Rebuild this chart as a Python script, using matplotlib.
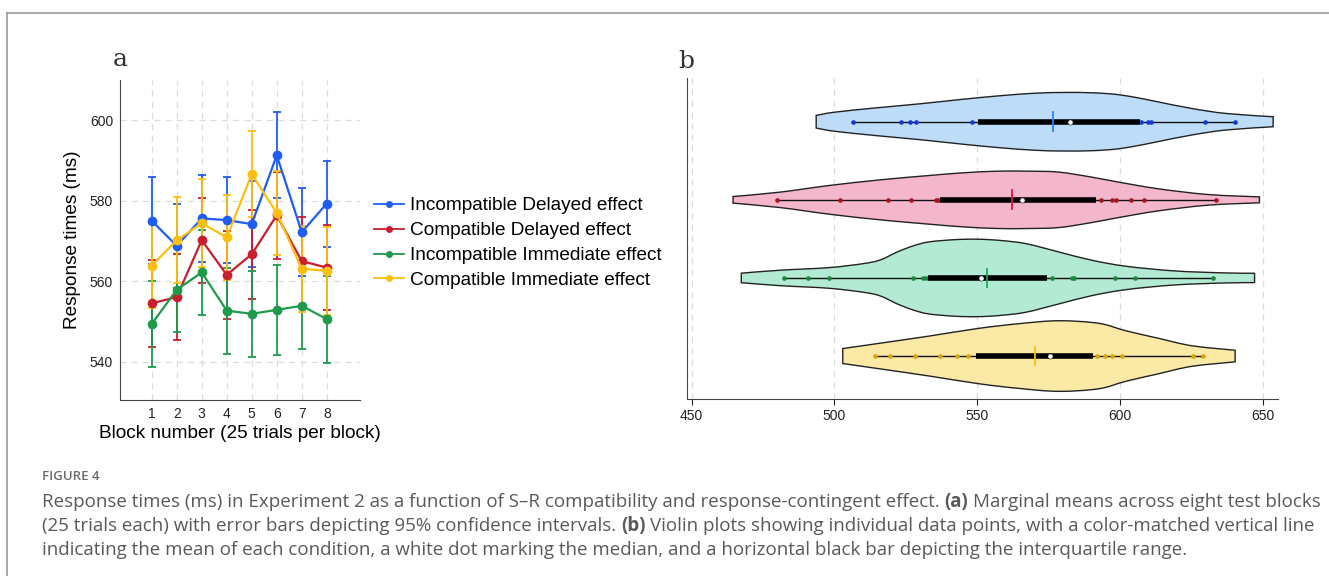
"""Figure 4: response times by block (a) and violin plots per condition (b)."""

import matplotlib
matplotlib.use("Agg")
import matplotlib.pyplot as plt
from matplotlib.lines import Line2D
from matplotlib.path import Path
from matplotlib.patches import PathPatch
import numpy as np

# ── data: panel a (marginal means, 95% CI half-widths) ─────────────────────

BLOCKS = [1, 2, 3, 4, 5, 6, 7, 8]
SERIES = [
    "Incompatible Delayed effect",
    "Compatible Delayed effect",
    "Incompatible Immediate effect",
    "Compatible Immediate effect",
]
inc_del_mean = [575.0, 568.8, 575.6, 575.2, 574.2, 591.3, 572.2, 579.3]
inc_del_ci = [10.8, 10.5, 10.7, 10.6, 10.6, 10.7, 11.0, 10.7]
com_del_mean = [554.5, 556.1, 570.2, 561.6, 566.7, 576.4, 565.0, 563.4]
com_del_ci = [10.8, 10.6, 10.6, 10.9, 11.0, 10.8, 11.0, 10.6]
inc_imm_mean = [549.4, 557.9, 562.2, 552.7, 551.9, 552.9, 553.9, 550.6]
inc_imm_ci = [10.6, 10.6, 10.5, 10.7, 10.6, 11.1, 10.8, 10.8]
com_imm_mean = [563.9, 570.2, 574.4, 570.9, 586.6, 577.0, 563.1, 562.6]
com_imm_ci = [10.6, 10.7, 10.9, 10.6, 10.7, 10.5, 10.7, 10.9]

# ── data: panel b (violin outline, individual points, summary stats) ───────
# outline: response time [ms] and half-height of the density (axis units)

inc_del_vx = [493.6, 500, 515, 530, 545, 558, 570, 580, 590, 598, 605, 613, 625, 637, 653.5]
inc_del_vh = [0.081, 0.122, 0.179, 0.230, 0.288, 0.333, 0.365, 0.375, 0.371, 0.352,
              0.314, 0.256, 0.170, 0.106, 0.064]
com_del_vx = [464.5, 481, 498, 516, 533, 545, 557, 568, 578.5, 590, 599.4, 613.4, 630.8, 648.7]
com_del_vh = [0.042, 0.099, 0.183, 0.256, 0.311, 0.346, 0.367, 0.367, 0.355, 0.291,
              0.227, 0.141, 0.068, 0.038]
inc_imm_vx = [467.4, 481, 498, 510, 516, 522, 527.5, 533, 542, 550, 558, 567, 578.5,
              590, 602, 619, 637, 647]
inc_imm_vh = [0.061, 0.099, 0.132, 0.183, 0.230, 0.333, 0.410, 0.461, 0.490, 0.496,
              0.480, 0.439, 0.333, 0.227, 0.150, 0.090, 0.064, 0.060]
com_imm_vx = [502.9, 515.7, 533.2, 550.6, 565, 578.5, 592.5, 601.9, 613.4, 625, 640.2]
com_imm_vh = [0.096, 0.163, 0.256, 0.355, 0.416, 0.452, 0.419, 0.324, 0.227, 0.132, 0.074]

inc_del_pts = [506.6, 523.3, 526.4, 528.5, 548.0, 607.4, 609.8, 610.8, 629.8, 640.2]
com_del_pts = [479.9, 502.1, 518.6, 526.9, 535.6, 536.4, 593.3, 597.0, 598.5, 603.6,
               608.4, 633.4]
inc_imm_pts = [482.4, 490.7, 498.0, 527.6, 531.0, 532.0, 576.2, 583.1, 583.7, 598.1,
               605.1, 632.3]
com_imm_pts = [514.3, 519.4, 528.3, 537.0, 543.0, 546.6, 591.7, 594.8, 597.1, 600.6,
               625.4, 629.1]

q1 = [550.4, 537.0, 532.6, 549.4]
q3 = [606.8, 591.5, 574.5, 590.4]
means = [576.4, 562.0, 553.3, 570.3]
medians = [582.4, 565.5, 551.3, 575.3]

CAPTION_LINES = [
    [("Response times (ms) in Experiment 2 as a function of S\u2013R compatibility and "
      "response-contingent effect.", "normal"),
     ("(a)", "bold"), ("Marginal means across eight test blocks", "normal")],
    [("(25 trials each) with error bars depicting 95% confidence intervals.", "normal"),
     ("(b)", "bold"),
     ("Violin plots showing individual data points, with a color-matched vertical line",
      "normal")],
    [("indicating the mean of each condition, a white dot marking the median, and a "
      "horizontal black bar depicting the interquartile range.", "normal")],
]

# ── styles ─────────────────────────────────────────────────────────────────

W_PX, H_PX = 1329, 576
LINE_COLORS = ["#1f5ef5", "#c81e2d", "#1f9a4a", "#fdc010"]
FILL_COLORS = ["#bcdcf8", "#f3b6cb", "#b2ead3", "#fbe9a6"]
DOT_COLORS = ["#1238d8", "#b0101e", "#178a3a", "#d9a400"]
MEAN_COLORS = ["#2a7fff", "#d81c3a", "#1fa553", "#f2c000"]
GRID = dict(color="#dddddd", linestyle=(0, (5, 4)), linewidth=0.9)
LABEL_SIZE = 13.7

plt.rcParams["font.family"] = ["Liberation Sans", "DejaVu Sans"]

fig = plt.figure(figsize=(W_PX / 100, H_PX / 100), dpi=100)


def px_box(left, top, right, bottom):
    return [left / W_PX, 1 - bottom / H_PX, (right - left) / W_PX, (bottom - top) / H_PX]


def smooth_edge(xs, ys):
    """Catmull-Rom through the read outline points, as cubic Bezier vertices."""
    p = np.column_stack([xs, ys])
    n = len(p)
    verts = []
    for i in range(n - 1):
        p0, p1, p2, p3 = p[max(i - 1, 0)], p[i], p[i + 1], p[min(i + 2, n - 1)]
        verts += [p1 + (p2 - p0) / 6, p2 - (p3 - p1) / 6, p2]
    return verts


def violin_path(xs, hs, pos):
    xs = np.asarray(xs, float)
    hs = np.asarray(hs, float)
    upper = smooth_edge(xs, pos + hs)
    lower = smooth_edge(xs[::-1], pos - hs[::-1])
    verts = [(xs[0], pos + hs[0])] + upper + [(xs[-1], pos - hs[-1])] + lower
    verts.append((xs[0], pos + hs[0]))
    codes = ([Path.MOVETO] + [Path.CURVE4] * len(upper) + [Path.LINETO]
             + [Path.CURVE4] * len(lower) + [Path.CLOSEPOLY])
    return Path(verts, codes)


# ── panel a ────────────────────────────────────────────────────────────────

ax_a = fig.add_axes(px_box(120, 80, 360, 400))
means_a = [inc_del_mean, com_del_mean, inc_imm_mean, com_imm_mean]
cis_a = [inc_del_ci, com_del_ci, inc_imm_ci, com_imm_ci]
for name, m, ci, c in zip(SERIES, means_a, cis_a, LINE_COLORS):
    ax_a.errorbar(BLOCKS, m, yerr=ci, color=c, ecolor=c, elinewidth=1.3,
                  capsize=3, capthick=1.3, linewidth=1.6, marker="o",
                  markersize=6, label=name, zorder=3)

ax_a.set_xlim(-0.27, 9.33)
ax_a.set_ylim(530.5, 610)
ax_a.set_xticks(BLOCKS)
ax_a.set_yticks([540, 560, 580, 600])
ax_a.grid(True, **GRID)
ax_a.set_axisbelow(True)
for s in ["top", "right"]:
    ax_a.spines[s].set_visible(False)
for s in ["left", "bottom"]:
    ax_a.spines[s].set_color("#444444")
ax_a.tick_params(length=0, labelsize=10, pad=5, colors="#222222")
ax_a.set_xlabel("Block number (25 trials per block)", fontsize=LABEL_SIZE, labelpad=3)
ax_a.set_ylabel("Response times (ms)", fontsize=LABEL_SIZE, labelpad=6)

handles = [Line2D([], [], color=c, marker="o", markersize=4, linewidth=1.3)
           for c in LINE_COLORS]
fig.legend(handles, SERIES, loc="upper left", bbox_to_anchor=(374 / W_PX, 1 - 197 / H_PX),
           frameon=False, fontsize=LABEL_SIZE, handlelength=1.6, handletextpad=0.3,
           labelspacing=0.4, borderpad=0, borderaxespad=0)

fig.text(120 / W_PX, 1 - 59 / H_PX, "a", fontsize=18, family="DejaVu Serif",
         ha="center", va="center", color="#333333")

# ── panel b ────────────────────────────────────────────────────────────────

ax_b = fig.add_axes(px_box(687, 78, 1278, 399))
vx = [inc_del_vx, com_del_vx, inc_imm_vx, com_imm_vx]
vh = [inc_del_vh, com_del_vh, inc_imm_vh, com_imm_vh]
pts = [inc_del_pts, com_del_pts, inc_imm_pts, com_imm_pts]
positions = [4, 3, 2, 1]

for i, pos in enumerate(positions):
    ax_b.add_patch(PathPatch(violin_path(vx[i], vh[i], pos), facecolor=FILL_COLORS[i],
                             edgecolor="#222222", linewidth=1.0, zorder=2))
    p = np.array(pts[i])
    ax_b.plot([p.min(), p.max()], [pos, pos], color="#111111", linewidth=1.0, zorder=3)
    ax_b.scatter(p, np.full(len(p), pos), s=11, color=DOT_COLORS[i], zorder=4,
                 linewidths=0)
    ax_b.plot([q1[i], q3[i]], [pos, pos], color="black", linewidth=4,
              solid_capstyle="butt", zorder=5)
    ax_b.plot([means[i], means[i]], [pos - 0.12, pos + 0.12], color=MEAN_COLORS[i],
              linewidth=1.3, zorder=6)
    ax_b.scatter([medians[i]], [pos], s=14, color="white", edgecolors="#111111",
                 linewidths=0.4, zorder=7)

ax_b.set_xlim(448.4, 655.2)
ax_b.set_ylim(0.45, 4.56)
ax_b.set_xticks([450, 500, 550, 600, 650])
ax_b.set_yticks([])
ax_b.grid(True, axis="x", **GRID)
ax_b.set_axisbelow(True)
for s in ["top", "right"]:
    ax_b.spines[s].set_visible(False)
for s in ["left", "bottom"]:
    ax_b.spines[s].set_color("#444444")
ax_b.tick_params(axis="x", length=4, width=0.8, labelsize=10, pad=3,
                 colors="#222222")

fig.text(686 / W_PX, 1 - 61 / H_PX, "b", fontsize=18, family="DejaVu Serif",
         ha="center", va="center", color="#333333")

# ── frame and caption ──────────────────────────────────────────────────────

fig.add_artist(Line2D([7 / W_PX, 1], [1 - 12.5 / H_PX, 1 - 12.5 / H_PX],
                      color="#9a9a9a", linewidth=1.2))
fig.add_artist(Line2D([7 / W_PX, 7 / W_PX], [0, 1 - 12.5 / H_PX],
                      color="#9a9a9a", linewidth=1.2))

fig.text(42 / W_PX, 1 - 477 / H_PX, "FIGURE 4", fontsize=9.5, family="Open Sans",
         fontweight="semibold", color="#6a6a6a", va="center")

renderer = fig.canvas.get_renderer()


def text_width(s, weight, size):
    t = fig.text(0, 0, s, fontsize=size, family="Open Sans", fontweight=weight)
    w = t.get_window_extent(renderer).width
    t.remove()
    return w


def line_width(runs, size):
    gap = text_width("a a", "normal", size) - text_width("aa", "normal", size)
    return sum(text_width(s, w, size) for s, w in runs) + gap * (len(runs) - 1)


# first caption line runs from x=42 to x=1317 in the reference
cap_size = 10.6 * 1287 / line_width(CAPTION_LINES[0], 10.6)
space_w = text_width("a a", "normal", cap_size) - text_width("aa", "normal", cap_size)
for k, runs in enumerate(CAPTION_LINES):
    x = 42
    y = 502 + 24 * k
    for s, weight in runs:
        fig.text(x / W_PX, 1 - y / H_PX, s, fontsize=cap_size, family="Open Sans",
                 fontweight=weight, color="#595959", va="center")
        x += text_width(s, weight, cap_size) + space_w

fig.savefig("out.png", dpi=100)
plt.close(fig)
